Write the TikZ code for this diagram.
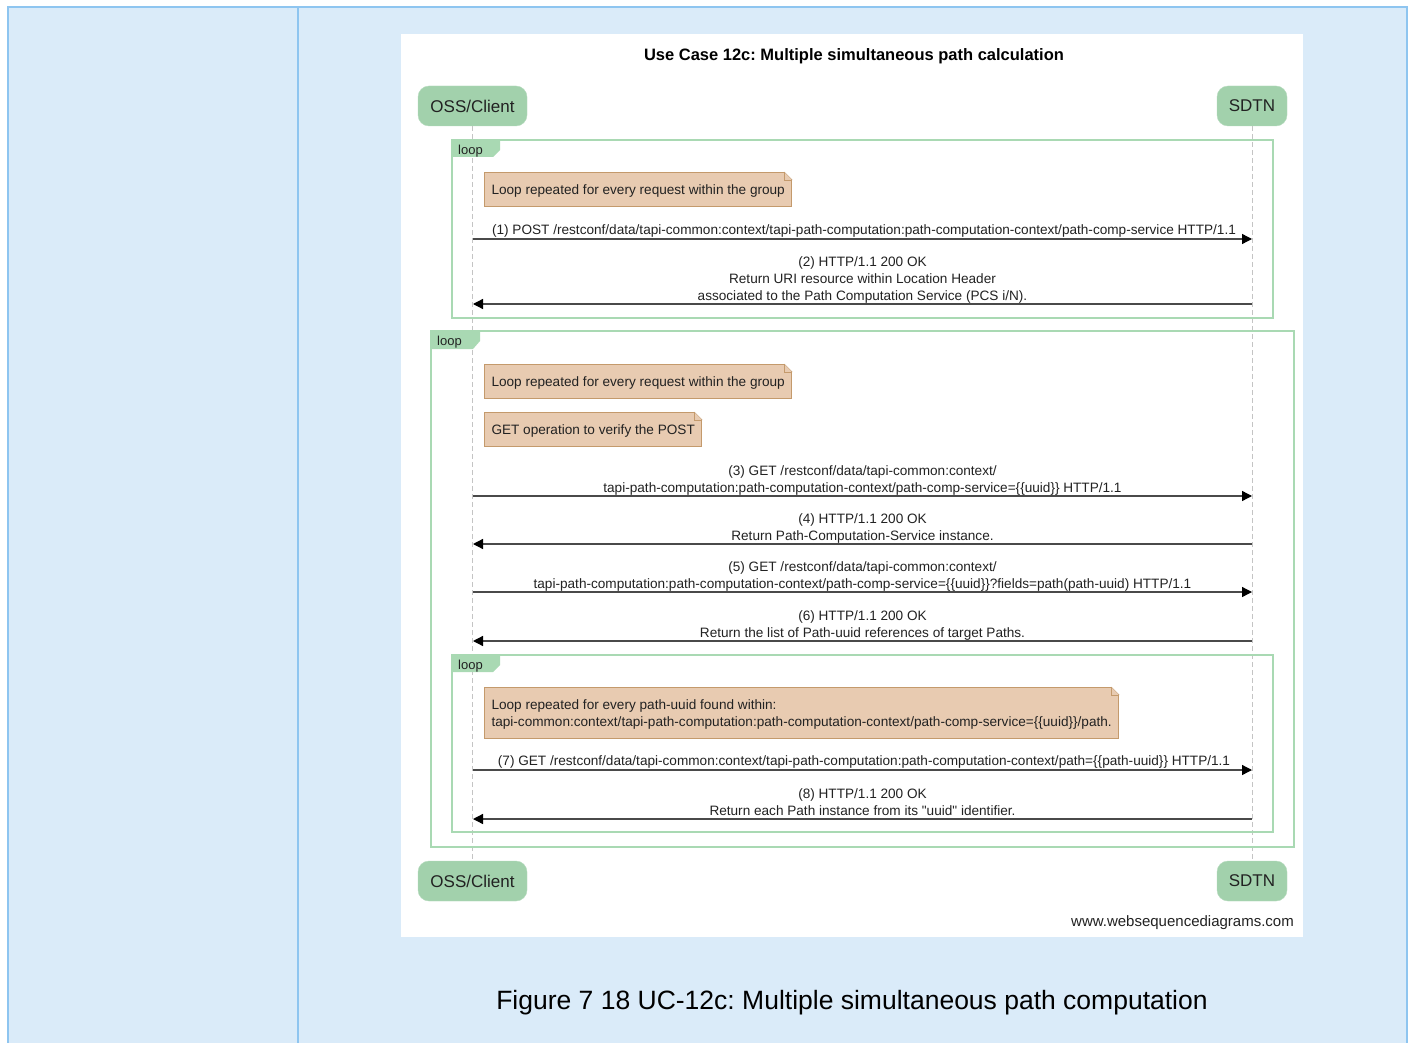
\documentclass[tikz,border=0pt]{standalone}
\usepackage{fontspec}
\setmainfont{Liberation Sans}
\usetikzlibrary{arrows.meta}
\definecolor{bgblue}{HTML}{DAEBF9}
\definecolor{lineblue}{HTML}{8EC5F0}
\definecolor{actorgreen}{HTML}{A2D1AC}
\definecolor{loopgreen}{HTML}{A9D9B3}
\definecolor{notefill}{HTML}{E8CBB1}
\definecolor{notedraw}{HTML}{C49A6C}
\definecolor{msggray}{HTML}{4A4A4A}
\definecolor{lifegray}{HTML}{C4C4C4}
\definecolor{txt}{HTML}{222222}
\newcommand\notefold[1]{%
  \fill[white] ([xshift=-8pt]#1.north east) -- ([xshift=1pt,yshift=1pt]#1.north east) -- ([yshift=-8pt]#1.north east) -- cycle;
  \draw[notedraw] ([xshift=-8pt]#1.north east) -- ([yshift=-8pt]#1.north east);
  \draw[notedraw] ([xshift=-8pt]#1.north east) -- ([xshift=-8pt,yshift=-8pt]#1.north east) -- ([yshift=-8pt]#1.north east);}
\frenchspacing
\begin{document}
\begin{tikzpicture}[x=1pt,y=-1pt,
  actor/.style={fill=actorgreen, draw=actorgreen!80!white, rounded corners=11pt, minimum height=40pt, inner xsep=10pt, text=txt, font=\fontsize{17}{20}\selectfont},
  lifeline/.style={draw=lifegray, dashed, dash pattern=on 5pt off 3pt, line width=1pt},
  loopframe/.style={draw=loopgreen, line width=2pt},
  looptab/.style={fill=loopgreen},
  looptext/.style={text=txt, font=\fontsize{13}{15}\selectfont, anchor=west, inner sep=0pt},
  note/.style={draw=notedraw, fill=notefill, line width=1pt, anchor=north west, inner xsep=7pt, inner ysep=0pt, text depth=0pt, minimum height=34pt, align=left, text=txt, font=\fontsize{13.6}{17}\selectfont},
  lbl/.style={anchor=south, inner sep=0pt, align=center, text depth=3pt, text=txt, font=\fontsize{13.6}{17}\selectfont},
  msg/.style={draw=msggray, line width=1.3pt, -{Triangle[length=10pt,width=10pt,color=black]}},
]
\useasboundingbox (0,0) rectangle (1413,1043);
\fill[white] (0,0) rectangle (1413,1043);
\fill[bgblue] (8,7) rectangle (1407,1043);
\draw[lineblue, line width=1.5pt] (8,1043) -- (8,7) -- (1407,7) -- (1407,1043);
\draw[lineblue, line width=1.5pt] (298,7) -- (298,1043);
\fill[white] (401,34) rectangle (1303,937);

\node[font=\bfseries\fontsize{16.5}{19}\selectfont, text=black] (title) at (854,56.5) {Use Case 12c: Multiple simultaneous path calculation};

% actors
\node[actor, minimum width=109pt] (ossT) at (472.5,106) {OSS/Client};
\node[actor, minimum width=70pt] (sdtnT) at (1252,106) {SDTN};
\node[actor, minimum width=109pt] (ossB) at (472.5,881) {OSS/Client};
\node[actor, minimum width=70pt] (sdtnB) at (1252,881) {SDTN};
\draw[lifeline] (ossT.south) -- (ossB.north);
\draw[lifeline] (sdtnT.south) -- (sdtnB.north);

% loop frames
\draw[loopframe] (452,140) rectangle (1273,318);
\fill[looptab] (452,140) -- (500,140) -- (500,150) -- (493,157) -- (452,157) -- cycle;
\node[looptext] (loop1) at (458,151) {loop};

\draw[loopframe] (431,331) rectangle (1294,847);
\fill[looptab] (431,331) -- (480,331) -- (480,341) -- (473,349) -- (431,349) -- cycle;
\node[looptext] (loop2) at (437,342) {loop};

\draw[loopframe] (452,655) rectangle (1273,832);
\fill[looptab] (452,655) -- (500,655) -- (500,665) -- (493,672) -- (452,672) -- cycle;
\node[looptext] (loop3) at (458,666) {loop};

% notes
\node[note] (n1) at (484,172) {Loop repeated for every request within the group};
\notefold{n1}
\node[note] (n2) at (484,364) {Loop repeated for every request within the group};
\notefold{n2}
\node[note] (n3) at (484,412) {GET operation to verify the POST};
\notefold{n3}
\node[note, minimum height=51pt] (n4) at (484,687) {Loop repeated for every path-uuid found within:\\tapi-common:context/tapi-path-computation:path-computation-context/path-comp-service=\{\{uuid\}\}/path.};
\notefold{n4}

% message endpoints
\foreach \i/\y in {1/239,2/304,3/496,4/544,5/592,6/641,7/770,8/819}{
  \coordinate (L\i) at (473,\y);
  \coordinate (R\i) at (1252,\y);
}
\draw[msg] (L1) -- (R1);
\draw[msg] (R2) -- (L2);
\draw[msg] (L3) -- (R3);
\draw[msg] (R4) -- (L4);
\draw[msg] (L5) -- (R5);
\draw[msg] (R6) -- (L6);
\draw[msg] (L7) -- (R7);
\draw[msg] (R8) -- (L8);

\node[lbl] (t1) at (864,238) {(1) POST /restconf/data/tapi-common:context/tapi-path-computation:path-computation-context/path-comp-service HTTP/1.1};
\node[lbl] (t2) at (862.5,303.5) {(2) HTTP/1.1 200 OK\\Return URI resource within Location Header\\associated to the Path Computation Service (PCS i/N).};
\node[lbl] (t3) at (862.5,495.5) {(3) GET /restconf/data/tapi-common:context/\\tapi-path-computation:path-computation-context/path-comp-service=\{\{uuid\}\} HTTP/1.1};
\node[lbl] (t4) at (862.5,543.5) {(4) HTTP/1.1 200 OK\\Return Path-Computation-Service instance.};
\node[lbl] (t5) at (862.5,591.5) {(5) GET /restconf/data/tapi-common:context/\\tapi-path-computation:path-computation-context/path-comp-service=\{\{uuid\}\}?fields=path(path-uuid) HTTP/1.1};
\node[lbl] (t6) at (862.5,640.5) {(6) HTTP/1.1 200 OK\\Return the list of Path-uuid references of target Paths.};
\node[lbl] (t7) at (864,769) {(7) GET /restconf/data/tapi-common:context/tapi-path-computation:path-computation-context/path=\{\{path-uuid\}\} HTTP/1.1};
\node[lbl] (t8) at (862.5,818.5) {(8) HTTP/1.1 200 OK\\Return each Path instance from its \textquotedbl uuid\textquotedbl{} identifier.};

\node[anchor=east, inner sep=0pt, text=txt, font=\fontsize{15}{17}\selectfont] (wsd) at (1294,922.5) {www.websequencediagrams.com};

\node[text=black, font=\fontsize{26.5}{30}\selectfont] (caption) at (852,1003) {Figure 7 18 UC-12c: Multiple simultaneous path computation};
\end{tikzpicture}
\end{document}
